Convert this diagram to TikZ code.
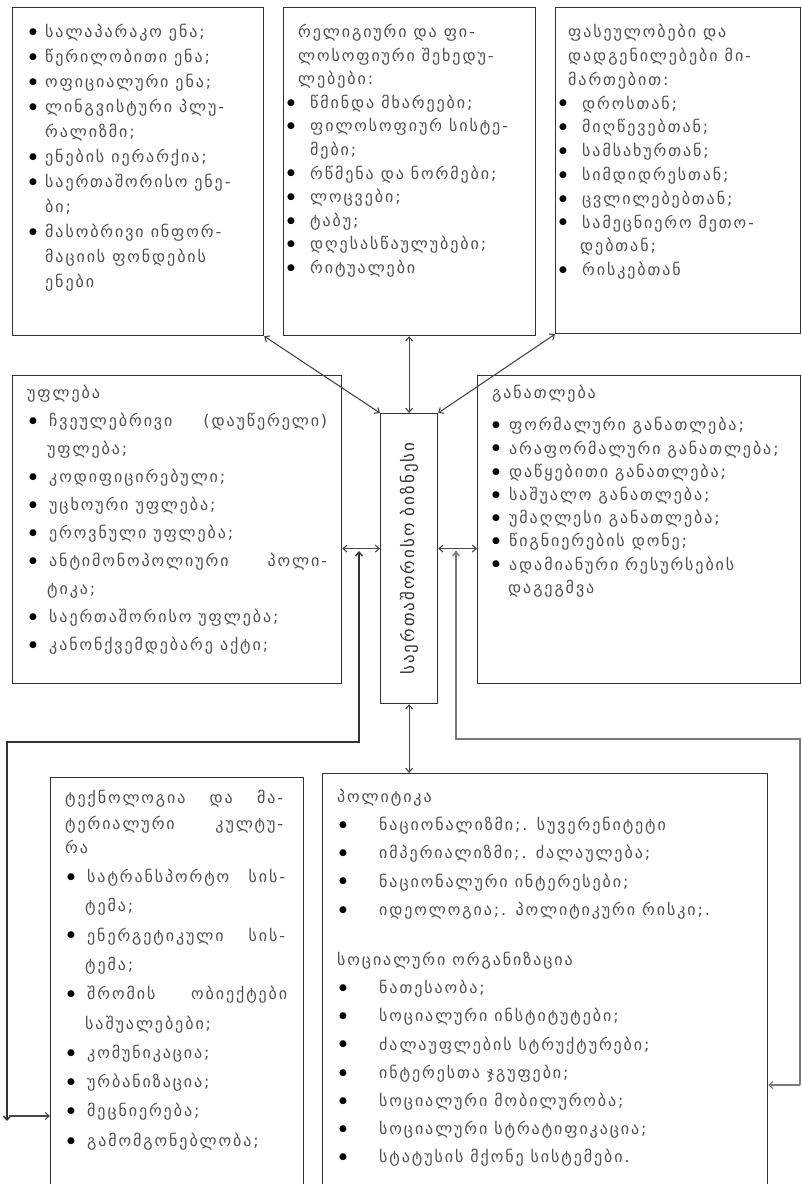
\documentclass[tikz,border=0pt]{standalone}
\usepackage{fontspec}
\setmainfont{DejaVu Sans}
\newfontfamily\geo{DejaVu Sans}[LetterSpace=12]
\newfontfamily\bulf{DejaVu Sans}
\usetikzlibrary{arrows.meta,calc}
\definecolor{txt}{HTML}{4F4F4F}
\definecolor{frame}{HTML}{333333}
\definecolor{elb}{HTML}{7A7A7A}
\newcommand\bul{\textcolor{black}{\raisebox{3.2pt}{\bulf\fontsize{9}{9}\selectfont ●}}}
\newcommand\bi[3]{\hspace*{#1}\makebox[#2][l]{\bul}#3}
\newcommand\ci[2]{\hspace*{#1}#2}
\newcommand\jl[2]{\makebox[#1][s]{#2}}
\newcommand\fst{\rule{0pt}{12pt}}
\begin{document}
\begin{tikzpicture}[x=1pt,y=-1pt,
  box/.style={draw=frame,line width=1.2pt,inner sep=0pt,anchor=north west},
  txtA/.style={anchor=north west,inner sep=0pt,align=left,text=txt},
  con/.style={draw=frame!90,line width=1.1pt,{Straight Barb[length=4pt,width=7pt]}-{Straight Barb[length=4pt,width=7pt]}},
  arr/.style={draw=frame!90,line width=1.1pt,-{Straight Barb[length=4pt,width=7pt]}},
  elbow/.style={draw=elb,line width=1.4pt,{Straight Barb[length=4pt,width=7pt]}-{Straight Barb[length=4pt,width=7pt]}}]
\useasboundingbox (0,0) rectangle (802,1184);
\clip (0,0) rectangle (802,1184);

% boxes
\node[box,minimum width=251pt,minimum height=328pt] (lang) at (12,7) {};
\node[box,minimum width=252pt,minimum height=328pt] (rel) at (283,7) {};
\node[box,minimum width=245pt,minimum height=326pt] (val) at (555,7) {};
\node[box,minimum width=329pt,minimum height=308pt] (law) at (12,375) {};
\node[box,minimum width=323pt,minimum height=308pt] (edu) at (477,375) {};
\node[box,minimum width=57pt,minimum height=290pt] (ctr) at (380,413) {};
\node[box,minimum width=253pt,minimum height=430pt] (tech) at (50,777) {};
\node[box,minimum width=445pt,minimum height=430pt] (pol) at (322,773) {};

% texts
\node[txtA,font={\geo\fontsize{16}{25}\selectfont}] (langT) at (29,24) {%
\fst\bi{0pt}{16pt}{სალაპარაკო ენა;}\\
\bi{0pt}{16pt}{წერილობითი ენა;}\\
\bi{0pt}{16pt}{ოფიციალური ენა;}\\
\bi{0pt}{16pt}{ლინგვისტური პლუ-}\\
\ci{16pt}{რალიზმი;}\\
\bi{0pt}{16pt}{ენების იერარქია;}\\
\bi{0pt}{16pt}{საერთაშორისო ენე-}\\
\ci{16pt}{ბი;}\\
\bi{0pt}{16pt}{მასობრივი ინფორ-}\\
\ci{16pt}{მაციის ფონდების}\\
\ci{16pt}{ენები}};

\node[txtA,font={\geo\fontsize{16}{23.6}\selectfont}] (relT) at (287,24) {%
\fst\ci{11pt}{რელიგიური და ფი-}\\
\ci{11pt}{ლოსოფიური შეხედუ-}\\
\ci{11pt}{ლებები:}\\
\bi{0pt}{23pt}{წმინდა მხარეები;}\\
\bi{0pt}{23pt}{ფილოსოფიურ სისტე-}\\
\ci{23pt}{მები;}\\
\bi{0pt}{23pt}{რწმენა და ნორმები;}\\
\bi{0pt}{23pt}{ლოცვები;}\\
\bi{0pt}{23pt}{ტაბუ;}\\
\bi{0pt}{23pt}{დღესასწაულუბები;}\\
\bi{0pt}{23pt}{რიტუალები}};

\node[txtA,font={\geo\fontsize{16}{23.8}\selectfont}] (valT) at (557,24) {%
\fst\ci{11pt}{ფასეულობები და}\\
\ci{11pt}{დადგენილებები მი-}\\
\ci{11pt}{მართებით:}\\
\bi{2pt}{23pt}{დროსთან;}\\
\bi{2pt}{23pt}{მიღწევებთან;}\\
\bi{2pt}{23pt}{სამსახურთან;}\\
\bi{2pt}{23pt}{სიმდიდრესთან;}\\
\bi{2pt}{23pt}{ცვლილებებთან;}\\
\bi{2pt}{23pt}{სამეცნიერო მეთო-}\\
\ci{23pt}{დებთან;}\\
\bi{2pt}{23pt}{რისკებთან}};

\node[txtA,font={\geo\fontsize{16}{28}\selectfont}] (lawT) at (27,385) {%
\fst უფლება\\
\bi{2pt}{20pt}{\jl{278pt}{ჩვეულებრივი (დაუწერელი)}}\\
\ci{20pt}{უფლება;}\\
\bi{2pt}{20pt}{კოდიფიცირებული;}\\
\bi{2pt}{20pt}{უცხოური უფლება;}\\
\bi{2pt}{20pt}{ეროვნული უფლება;}\\
\bi{2pt}{20pt}{\jl{278pt}{ანტიმონოპოლიური პოლი-}}\\
\ci{20pt}{ტიკა;}\\
\bi{2pt}{20pt}{საერთაშორისო უფლება;}\\
\bi{2pt}{20pt}{კანონქვემდებარე აქტი;}};

\node[txtA,font={\geo\fontsize{16}{23.2}\selectfont}] (eduT) at (491,385) {%
\fst\ci{1pt}{განათლება}\\[9pt]
\bi{1pt}{17pt}{ფორმალური განათლება;}\\
\bi{1pt}{17pt}{არაფორმალური განათლება;}\\
\bi{1pt}{17pt}{დაწყებითი განათლება;}\\
\bi{1pt}{17pt}{საშუალო განათლება;}\\
\bi{1pt}{17pt}{უმაღლესი განათლება;}\\
\bi{1pt}{17pt}{წიგნიერების დონე;}\\
\bi{1pt}{17pt}{ადამიანური რესურსების}\\
\ci{17pt}{დაგეგმვა}};

\node[txtA,font={\geo\fontsize{16}{29.3}\selectfont}] (techT) at (65,790) {%
\fst\jl{218pt}{ტექნოლოგია და მა-}\\[-3pt]
\jl{218pt}{ტერიალური კულტუ-}\\[-6pt]
რა\\
\bi{2pt}{20pt}{\jl{198pt}{სატრანსპორტო სის-}}\\
\ci{20pt}{ტემა;}\\
\bi{2pt}{20pt}{\jl{198pt}{ენერგეტიკული სის-}}\\
\ci{20pt}{ტემა;}\\
\bi{2pt}{20pt}{\jl{200pt}{შრომის ობიექტები}}\\
\ci{20pt}{საშუალებები;}\\
\bi{2pt}{20pt}{კომუნიკაცია;}\\
\bi{2pt}{20pt}{ურბანიზაცია;}\\
\bi{2pt}{20pt}{მეცნიერება;}\\
\bi{2pt}{20pt}{გამომგონებლობა;}};

\node[txtA,font={\geo\fontsize{16}{28.2}\selectfont}] (polT) at (337,789) {%
\fst პოლიტიკა\\
\bi{2pt}{40pt}{ნაციონალიზმი;. სუვერენიტეტი}\\
\bi{2pt}{40pt}{იმპერიალიზმი;. ძალაულება;}\\
\bi{2pt}{40pt}{ნაციონალური ინტერესები;}\\
\bi{2pt}{40pt}{იდეოლოგია;. პოლიტიკური რისკი;.}\\[22pt]
სოციალური ორგანიზაცია\\
\bi{2pt}{40pt}{ნათესაობა;}\\
\bi{2pt}{40pt}{სოციალური ინსტიტუტები;}\\
\bi{2pt}{40pt}{ძალაუფლების სტრუქტურები;}\\
\bi{2pt}{40pt}{ინტერესთა ჯგუფები;}\\
\bi{2pt}{40pt}{სოციალური მობილურობა;}\\
\bi{2pt}{40pt}{სოციალური სტრატიფიკაცია;}\\
\bi{2pt}{40pt}{სტატუსის მქონე სისტემები.}};

\node[rotate=90,inner sep=0pt,text=black!80,font={\geo\fontsize{17}{20}\selectfont}] (ctrT) at (ctr.center) {საერთაშორისო ბიზნესი};

% connectors
\draw[con] (lang.south east) -- (ctr.north west);
\draw[con] (ctr.north |- rel.south) -- (ctr.north);
\draw[con] (val.south west) -- (ctr.north east);
\coordinate (hl) at ($(ctr.west)+(0,-10)$);
\coordinate (hr) at ($(ctr.east)+(0,-10)$);
\draw[con] (law.east |- hl) -- (hl);
\draw[con] (hr) -- (edu.west |- hr);
\draw[con] (ctr.south) -- (ctr.south |- pol.north);

\coordinate (le1) at (359,551);
\coordinate (le2) at (359,742);
\coordinate (le3) at (7,742);
\coordinate (le4) at (7,1121);
\draw[elbow,draw=frame] (le1) -- (le2) -- (le3) -- (le4);
\coordinate (la) at (9,1116);
\draw[arr] (la) -- (tech.west |- la);

\coordinate (re1) at (456,551);
\coordinate (re2) at (456,739);
\coordinate (re3) at (800,739);
\coordinate (re4) at (800,1085);
\draw[elbow,-] (re1) -- (re2) -- (re3) -- (re4);
\draw[draw=elb,line width=1.4pt,{Straight Barb[length=4pt,width=7pt]}-] (re1) -- (re2);
\draw[arr,draw=elb] (re4) -- (pol.east |- re4);
\end{tikzpicture}
\end{document}
